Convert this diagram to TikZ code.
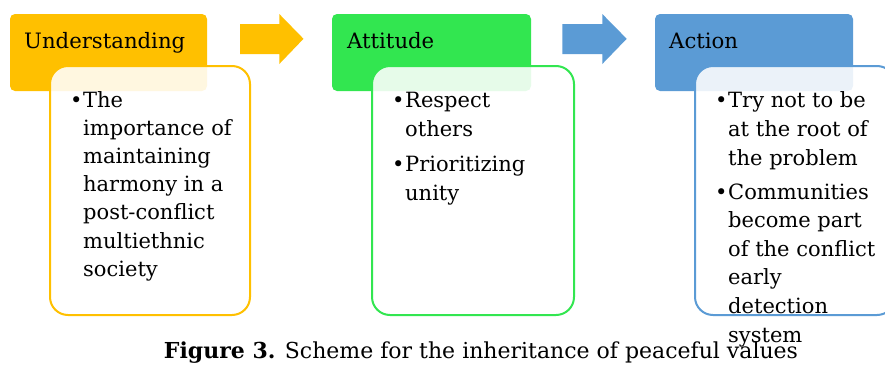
\documentclass[tikz,border=0pt]{standalone}
\usepackage{fontspec}
\setmainfont{DejaVu Serif}
\definecolor{cOrange}{RGB}{255,192,0}
\definecolor{cGreen}{RGB}{50,230,80}
\definecolor{cBlue}{RGB}{91,155,213}
\begin{document}
\begin{tikzpicture}[x=1pt,y=-1pt,
  header/.style={fill=#1, rounded corners=5pt},
  bodybox/.style={draw=#1, line width=2pt, fill=white, fill opacity=0.88, draw opacity=1, rounded corners=18pt},
  htext/.style={anchor=base west, inner sep=0pt, font=\fontsize{21.2}{24}\selectfont},
  btext/.style={anchor=base west, inner sep=0pt, font=\fontsize{21}{24}\selectfont},
  bul/.style={anchor=base west, inner sep=0pt, font=\fontsize{21}{24}\selectfont}
]
\useasboundingbox (0,0) rectangle (885,367);
% headers
\fill[header=cOrange] (10,14) rectangle (207,91);
\fill[header=cGreen] (332,14) rectangle (531,91);
\fill[header=cBlue] (655,14) rectangle (853,91);
\node[htext] (hU) at (24,48) {Understanding};
\node[htext] (hA) at (347,48) {Attitude};
\node[htext] (hC) at (669,48) {Action};
% arrows
\fill[cOrange] (240,24) -- (279.3,24) -- (279.3,14) -- (303.5,38.8) -- (279.3,64) -- (279.3,54) -- (240,54) -- cycle;
\fill[cBlue] (562.3,24) -- (602.3,24) -- (602.3,14) -- (626.7,38.8) -- (602.3,64) -- (602.3,54) -- (562.3,54) -- cycle;
% bodies
\path[bodybox=cOrange] (50,66) rectangle (250,315);
\path[bodybox=cGreen] (372,66) rectangle (574,315);
\path[bodybox=cBlue] (695,66) rectangle (895,315);
% body text 1
\node[bul] (b1) at (70,107) {•};
\foreach \t [count=\i from 0] in {The,importance of,maintaining,harmony in a,post-conflict,multiethnic,society}
  \node[btext] (u\i) at (83,107+28.2*\i) {\t};
% body text 2
\node[bul] (b2) at (392,107) {•};
\node[btext] (a0) at (405,107) {Respect};
\node[btext] (a1) at (405,136) {others};
\node[bul] (b3) at (392,171) {•};
\node[btext] (a2) at (405,171) {Prioritizing};
\node[btext] (a3) at (405,200) {unity};
% body text 3
\node[bul] (b4) at (715,107) {•};
\node[btext] (c0) at (728,107) {Try not to be};
\node[btext] (c1) at (728,136) {at the root of};
\node[btext] (c2) at (728,165) {the problem};
\node[bul] (b5) at (715,199) {•};
\foreach \t [count=\i from 0] in {Communities,become part,of the conflict,early,detection,system}
  \node[btext] (d\i) at (728,199+28.6*\i) {\t};
% caption
\node[anchor=base, inner sep=0pt, font=\fontsize{22}{24}\selectfont] (cap) at (481,358) {\textbf{Figure 3.} Scheme for the inheritance of peaceful values};
\end{tikzpicture}
\end{document}
